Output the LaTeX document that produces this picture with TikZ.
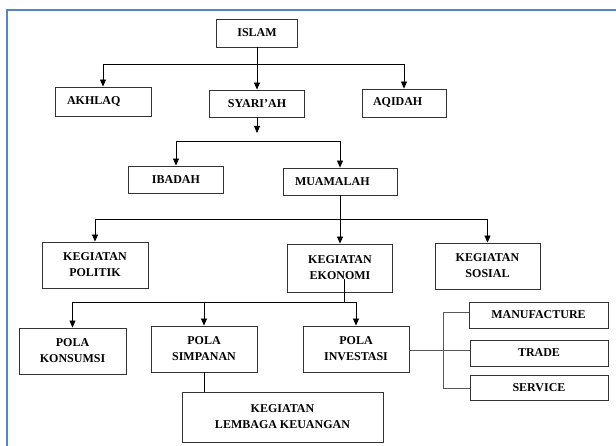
\documentclass[tikz,border=0pt]{standalone}
\usepackage{fontspec}
\setmainfont{Liberation Serif}
\usepackage{xcolor}
\usetikzlibrary{calc,arrows.meta,positioning}
\definecolor{bingkai}{RGB}{84,133,200}

\begin{document}
\begin{tikzpicture}[x=1pt,y=-1pt,
  kotak/.style={draw=black!80,line width=0.9pt,font=\fontsize{12}{16}\selectfont\bfseries,align=center,inner sep=0pt},
  kiri/.style={align=left,inner xsep=12pt,text width=#1},
  panah/.style={draw=black,line width=0.8pt,-{Triangle[length=7pt,width=6pt]}},
  garis/.style={draw=black,line width=0.8pt},
  cabang/.style={draw=black!65,line width=0.8pt}]
  \useasboundingbox (0,0) rectangle (616,446);
  \draw[bingkai,line width=2pt] (7,452) -- (7,10) -- (622,10);

  \node[kotak,minimum width=81pt,minimum height=28pt] (islam) at (257,33) {ISLAM};
  \node[kotak,kiri=72pt,minimum height=29pt] (akhlaq) at (103,101.5) {AKHLAQ};
  \node[kotak,minimum width=95pt,minimum height=27pt] (syariah) at (257,103.5) {SYARI'AH};
  \node[kotak,kiri=62pt,inner xsep=11pt,minimum height=28pt] (aqidah) at (404,103) {AQIDAH};
  \node[kotak,minimum width=95pt,minimum height=27pt] (ibadah) at (176,179.5) {IBADAH};
  \node[kotak,kiri=90pt,minimum height=27pt] (muamalah) at (340,181.5) {MUAMALAH};
  \node[kotak,minimum width=106pt,minimum height=46pt] (politik) at (95,265) {KEGIATAN\\POLITIK};
  \node[kotak,minimum width=105pt,minimum height=48pt] (ekonomi) at (340,268) {KEGIATAN\\EKONOMI};
  \node[kotak,minimum width=105pt,minimum height=46pt] (sosial) at (487.5,266) {KEGIATAN\\SOSIAL};
  \node[kotak,minimum width=107pt,minimum height=46pt] (konsumsi) at (72.5,351) {POLA\\KONSUMSI};
  \node[kotak,minimum width=106pt,minimum height=46pt] (simpanan) at (204,349) {POLA\\SIMPANAN};
  \node[kotak,minimum width=106pt,minimum height=46pt] (investasi) at (356,349) {POLA\\INVESTASI};
  \node[kotak,minimum width=201pt,minimum height=50pt] (lembaga) at (282.5,417) {KEGIATAN\\LEMBAGA KEUANGAN};
  \node[kotak,minimum width=139pt,minimum height=26pt] (manufacture) at (538.5,315) {MANUFACTURE};
  \node[kotak,minimum width=138pt,minimum height=26pt] (trade) at (539,353) {TRADE};
  \node[kotak,minimum width=138pt,minimum height=25pt] (service) at (539,387.5) {SERVICE};

  \coordinate (j1) at (257,64);
  \coordinate (s1) at (257,133);
  \coordinate (j2) at (257,141);
  \coordinate (j3) at (340,219);
  \coordinate (e1) at (344,279);
  \coordinate (j4) at (344,302);
  \coordinate (j5) at (443,350);
  \coordinate (c1) at (443,312);
  \coordinate (c3) at (443,388);

  \draw[panah] (islam) -- (syariah);
  \draw[panah] (j1) -| (akhlaq);
  \draw[panah] (j1) -| (aqidah);
  \draw[panah] (syariah) -- (s1);
  \draw[panah] (j2) -| (ibadah);
  \draw[panah] (j2) -| (muamalah);
  \draw[panah] (muamalah) -- (ekonomi);
  \draw[panah] (j3) -| (politik);
  \draw[panah] (j3) -| (sosial);
  \draw[garis] (e1) -- (j4);
  \draw[panah] (j4) -| (konsumsi);
  \draw[panah] (j4) -| (simpanan);
  \draw[panah] (j4) -| (investasi);
  \draw[garis] (simpanan.south) -- (simpanan.south |- lembaga.north);
  \draw[cabang] (investasi.east |- j5) -- (j5 -| trade.west);
  \draw[cabang] (c1 -| manufacture.west) -- (c1) -- (c3) -- (c3 -| service.west);
\end{tikzpicture}
\end{document}
